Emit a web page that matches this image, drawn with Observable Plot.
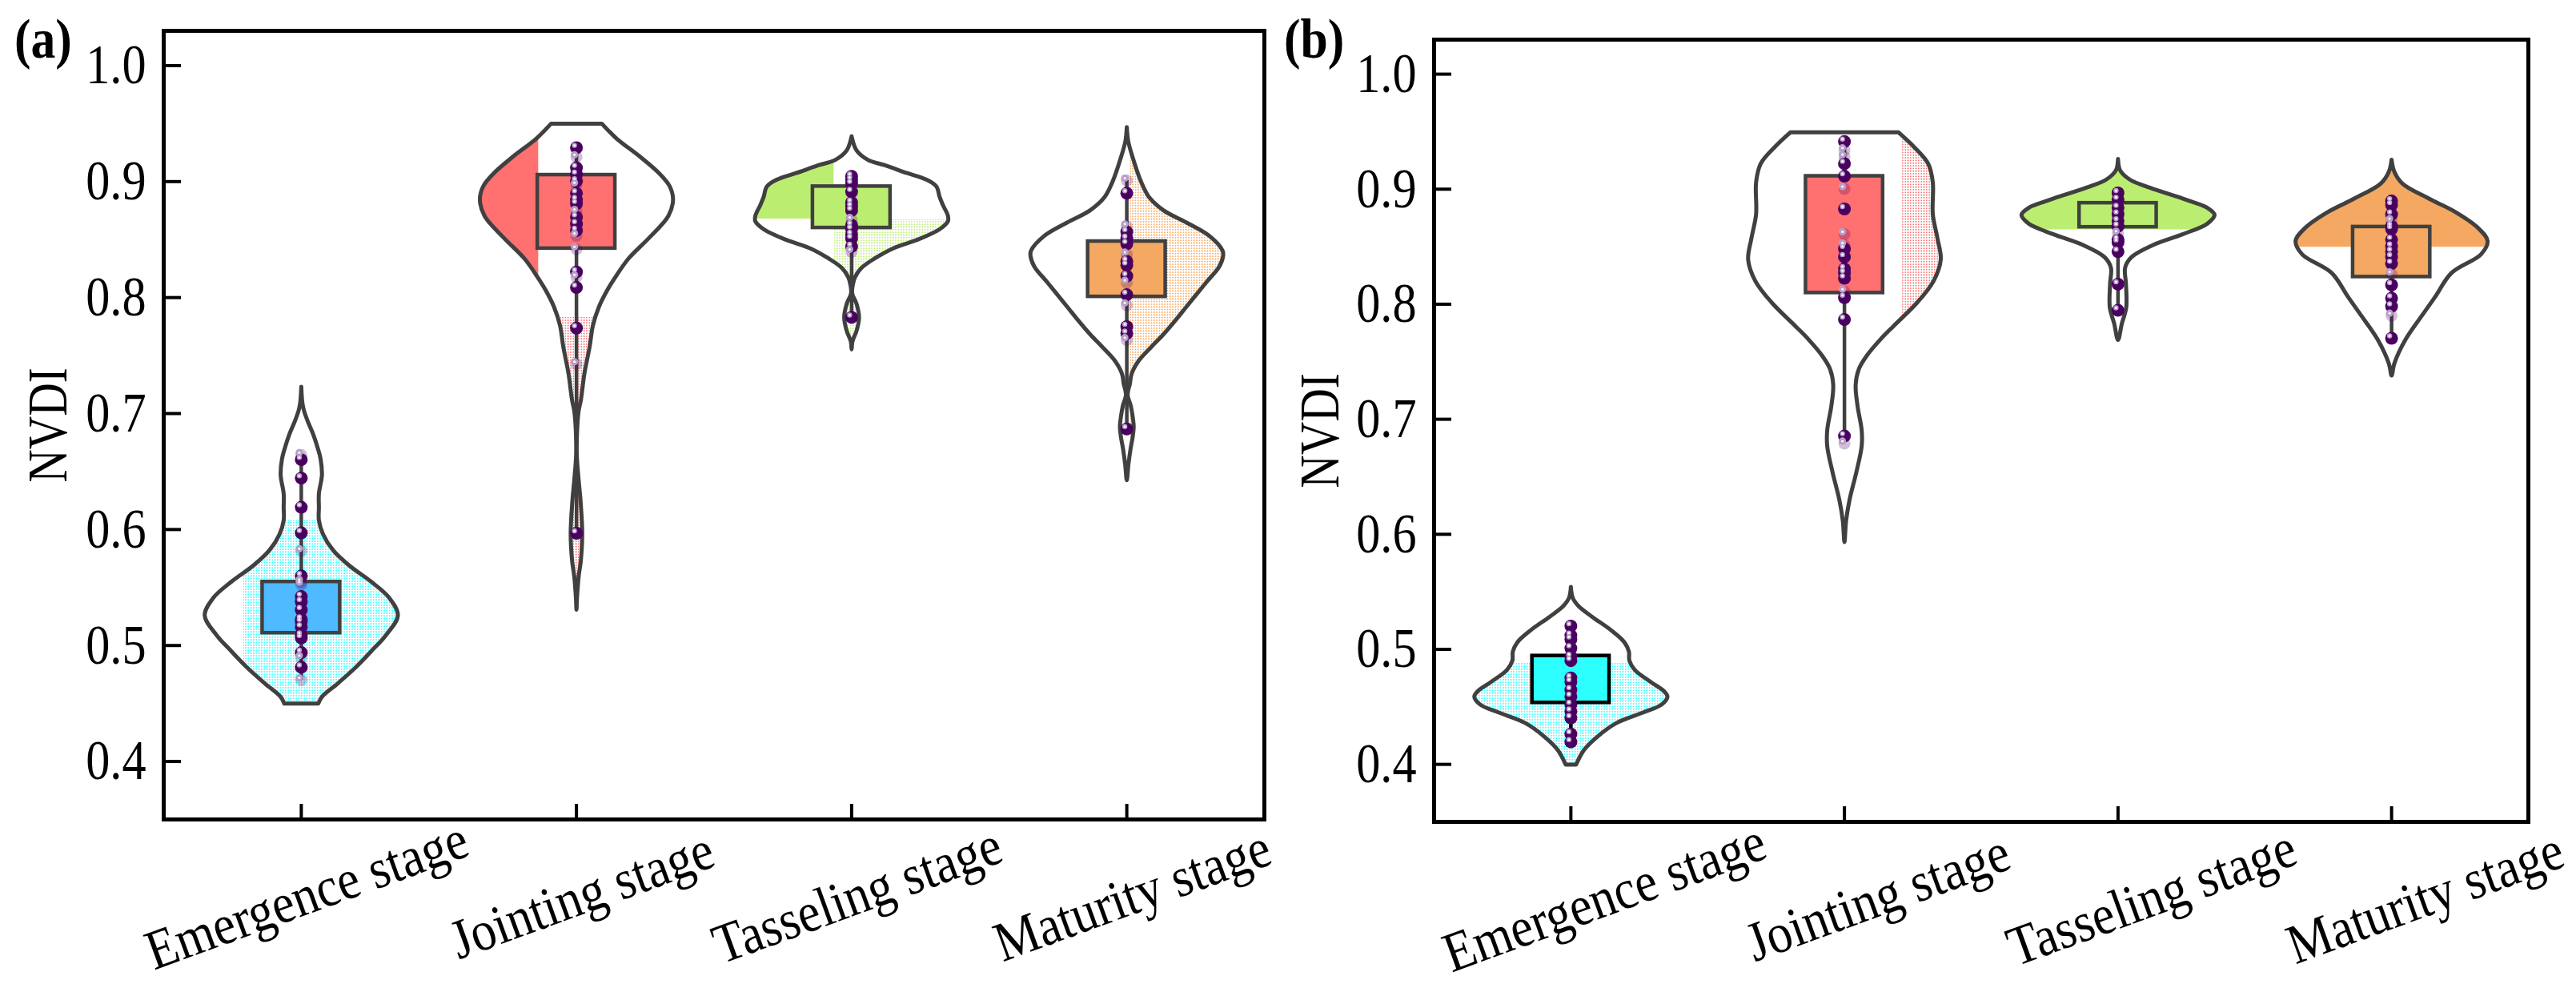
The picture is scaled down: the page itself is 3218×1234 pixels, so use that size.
<!DOCTYPE html>
<html>
<head>
<meta charset="utf-8">
<script src="https://cdn.jsdelivr.net/npm/d3@7"></script>
<script src="https://cdn.jsdelivr.net/npm/@observablehq/plot@0.6"></script>
<style>
html,body{margin:0;padding:0;background:#fff;}
#page{position:relative;width:3218px;height:1234px;overflow:hidden;background:#fff;}
.tag{position:absolute;font:bold 70px "Liberation Serif",serif;color:#000;line-height:1;transform:scaleX(.88);transform-origin:0 0;}
</style>
</head>
<body>
<div id="page">
<svg width="0" height="0" style="position:absolute">
  <defs id="pats"></defs>
</svg>
</div>
<script>
const stages = ["Emergence stage", "Jointing stage", "Tasseling stage", "Maturity stage"];
const yTicks = [0.4, 0.5, 0.6, 0.7, 0.8, 0.9, 1.0];

// violin profiles: [NVDI, half width in category units]
const a1Profile = [[.7231,0],[.7092,.004],[.7023,.010],[.693,.024],[.6816,.044],[.670,.060],[.661,.070],[.647,.075],[.631,.064],[.619,.064],[.608,.064],[.596,.079],[.582,.116],[.569,.174],[.555,.254],[.541,.320],[.526,.351],[.509,.308],[.495,.254],[.481,.197],[.467,.131],[.456,.076],[.450,.062]];
const a2Profile = [[.950,.092],[.9373,.145],[.9211,.233],[.9073,.300],[.8959,.339],[.8843,.351],[.8704,.334],[.8520,.266],[.8336,.189],[.8175,.141],[.8060,.111],[.7922,.082],[.7761,.060],[.7577,.048],[.7346,.029],[.7116,.016],[.7024,.008],[.6886,.003],[.6655,.001],[.6425,.008],[.6241,.015],[.5964,.021],[.5734,.016],[.5596,.008],[.5411,.002],[.5308,0]];
const a3Profile = [[.9391,0],[.9269,.018],[.9188,.059],[.9142,.119],[.9073,.202],[.9016,.273],[.8958,.308],[.8866,.320],[.8797,.332],[.8705,.350],[.8659,.350],[.8590,.320],[.8497,.237],[.8428,.154],[.8336,.083],[.8256,.036],[.8175,.012],[.8106,.004],[.8037,.002],[.7945,.018],[.7829,.027],[.7714,.018],[.7622,.003],[.7553,0]];
const a4Profile = [[.9470,0],[.9350,.005],[.9211,.021],[.9004,.051],[.8866,.081],[.8751,.134],[.8647,.217],[.8532,.300],[.8405,.348],[.8359,.350],[.8267,.336],[.8129,.288],[.7922,.217],[.7807,.178],[.768,.132],[.7577,.090],[.7461,.045],[.7346,.018],[.7254,.011],[.7162,.003],[.7070,.014],[.6978,.021],[.6886,.025],[.6793,.021],[.6701,.014],[.6563,.006],[.6425,0]];
const b1Profile = [[.5543,0],[.5446,.007],[.5376,.028],[.5284,.077],[.5168,.146],[.5063,.195],[.4982,.212],[.4901,.214],[.4820,.234],[.4716,.292],[.4635,.341],[.4589,.353],[.4519,.331],[.4450,.263],[.4357,.165],[.4241,.097],[.4125,.048],[.3998,.019]];
const b2Profile = [[.9495,.197],[.9361,.257],[.9222,.306],[.9060,.323],[.8782,.323],[.8573,.340],[.8388,.352],[.8203,.326],[.8017,.267],[.7809,.179],[.7693,.131],[.7554,.082],[.7438,.053],[.7299,.041],[.7114,.048],[.6905,.063],[.6766,.063],[.6535,.043],[.6303,.019],[.6118,.006],[.5932,0]];
const b3Profile = [[.9263,0],[.9163,.008],[.9082,.044],[.9013,.116],[.8909,.248],[.8839,.326],[.8777,.353],[.8700,.326],[.8608,.236],[.8515,.128],[.8411,.050],[.8318,.026],[.8179,.029],[.7970,.030],[.7832,.014],[.7688,0]];
const b4Profile = [[.9256,0],[.9152,.010],[.9048,.040],[.8920,.135],[.8804,.231],[.8665,.315],[.8550,.351],[.8434,.327],[.8272,.219],[.8063,.159],[.7901,.111],[.7693,.051],[.7484,.010],[.7380,0]];

// beads: solid samples and faded (dithered) samples
const a1Solid = [.6602,.6443,.6192,.5971,.5600,.5422,.5376,.5307,.5227,.5204,.5158,.5088,.5065,.4939,.4812];
const a1Faded = [.6643,.5814,.5549,.5526,.4893,.4701];
const a2Solid = [.9292,.9119,.9062,.9004,.8900,.8843,.8808,.8693,.8635,.8578,.8221,.8087,.7737,.5968];
const a2Faded = [.9211,.8969,.8739,.8532,.8417,.8175,.7426];
const a3Solid = [.9046,.9016,.8981,.8912,.8820,.8785,.8751,.8624,.8590,.8543,.8509,.8440,.7829];
const a3Faded = [.8670,.8394];
const a4Solid = [.8900,.8566,.8509,.8463,.8313,.8279,.8186,.8025,.7749,.7691,.6867];
const a4Faded = [.9009,.8613,.8371,.8129,.7933,.7634];
const b1Solid = [.5202,.5121,.5087,.5010,.4936,.4901,.4751,.4716,.4647,.4589,.4519,.4461,.4403,.4264,.4195];
const b1Faded = [];
const b2Solid = [.9414,.9222,.9113,.8828,.8481,.8411,.8307,.8272,.8226,.8057,.7867,.6854];
const b2Faded = [.9338,.9280,.9002,.8608,.8511,.8110,.6789];
const b3Solid = [.8967,.8909,.8839,.8781,.8723,.8677,.8561,.8538,.8457,.8174,.7947];
const b3Faded = [.8614];
const b4Solid = [.8897,.8862,.8781,.8677,.8654,.8561,.8503,.8457,.8411,.8353,.8167,.8052,.7982,.7704];
const b4Faded = [.8723,.8260,.7901];

// box [q1, q3] and whisker [low, high]
const aBoxes = [[.5107,.5549],[.8423,.9057],[.8601,.8958],[.8007,.8484]];
const bBoxes = [[.4535,.4943],[.8098,.9113],[.8670,.8879],[.8237,.8672]];
const aWhiskers = [[.4701,.6643],[.5968,.9292],[.7829,.9046],[.6867,.9009]];
const bWhiskers = [[.4195,.5202],[.6854,.9414],[.7947,.8967],[.7704,.8897]];
const aBoxColors = ["#4FBAFF","#FF7070","#BBEE70","#F4A862"];
const bBoxColors = ["#2DFFFF","#FF7070","#BBEE70","#F4A862"];
const bBoxStrokes = ["#000000","#404040","#404040","#404040"];

// fill patches seen in the figure: stage, NVDI range, x range, paint
const aPatches = [
  {s:1, lo:0, hi:.6079, xmin:.789, xmax:9, fill:"url(#dots-cyan)"},
  {s:2, lo:0, hi:1, xmin:0, xmax:1.8625, fill:"#FF7070"},
  {s:2, lo:0, hi:.7829, xmin:0, xmax:9, fill:"url(#dots-red)"},
  {s:3, lo:.8677, hi:1, xmin:0, xmax:2.936, fill:"#BBEE70"},
  {s:3, lo:0, hi:.8677, xmin:2.936, xmax:9, fill:"url(#dots-green)"},
  {s:4, lo:0, hi:1, xmin:4.012, xmax:9, fill:"url(#dots-orange)"}
];
const bPatches = [
  {s:1, lo:0, hi:.4878, xmin:0, xmax:9, fill:"url(#dots-cyan)"},
  {s:2, lo:.7902, hi:1, xmin:2.212, xmax:9, fill:"url(#dots-red)"},
  {s:3, lo:.8647, hi:1, xmin:0, xmax:9, fill:"#BBEE70"},
  {s:4, lo:.8496, hi:1, xmin:0, xmax:9, fill:"#F4A862"}
];

const patColors = {cyan:"#2DFFFF", red:"#FF7070", green:"#BBEE70", orange:"#F4A862", purple:"#4A0060"};
document.getElementById("pats").innerHTML = Object.entries(patColors).map(([k,c]) =>
  `<pattern id="dots-${k}" width="2" height="2" patternUnits="userSpaceOnUse"><rect width="1" height="1" fill="${c}" shape-rendering="crispEdges"/></pattern>`).join("");

const INK = "#404040";
const BOX_HALF = 0.141;

function outline(profile, s) {
  const first = profile[0], last = profile[profile.length - 1];
  const left = profile.map(([y, w]) => ({x: s - w, y}));
  const right = profile.filter(([, w]) => w > 0).map(([y, w]) => ({x: s + w, y})).reverse();
  // repeated end points keep the flat caps of a cut violin sharp
  const capBottom = last[1] > 0 ? [left[left.length - 1]] : [];
  const capBottomR = last[1] > 0 ? [right[0]] : [];
  const capTopR = first[1] > 0 ? [right[right.length - 1]] : [];
  const capTop = first[1] > 0 ? [left[0]] : [];
  return [...capTop, ...left, ...capBottom, ...capBottomR, ...right, ...capTopR, left[0], ...capTop];
}
function halfWidthAt(profile, y) {
  for (let i = 0; i < profile.length - 1; i++) {
    const [y0, w0] = profile[i], [y1, w1] = profile[i + 1];
    if (y <= y0 && y >= y1) return w0 + (w1 - w0) * (y0 - y) / (y0 - y1);
  }
  return null;
}
function patchArea(profile, p) {
  const top = Math.min(p.hi, profile[0][0]);
  const bot = Math.max(p.lo, profile[profile.length - 1][0]);
  const ys = d3.range(bot, top, 0.0008).concat(top);
  return ys.map(y => {
    const w = halfWidthAt(profile, y) ?? 0;
    return {y, x1: Math.max(p.s - w, p.xmin), x2: Math.min(p.s + w, p.xmax)};
  }).filter(d => d.x1 < d.x2);
}

function panel({profiles, solids, fadeds, boxes, whiskers, colors, strokes, patches, opts}) {
  const marks = [];
  for (const p of patches) {
    marks.push(Plot.areaX(patchArea(profiles[p.s - 1], p), {y: "y", x1: "x1", x2: "x2", fill: p.fill}));
  }
  profiles.forEach((prof, i) => {
    marks.push(Plot.line(outline(prof, i + 1), {x: "x", y: "y", stroke: INK, strokeWidth: 5, curve: "catmull-rom"}));
  });
  stages.forEach((_, i) => {
    const col = strokes ? strokes[i] : INK;
    marks.push(Plot.ruleX([i + 1], {y1: whiskers[i][0], y2: whiskers[i][1], stroke: col, strokeWidth: 4.5}));
    marks.push(Plot.rect([i], {
      x1: i + 1 - BOX_HALF, x2: i + 1 + BOX_HALF,
      y1: boxes[i][0], y2: boxes[i][1],
      fill: colors[i], stroke: col, strokeWidth: 4.5
    }));
  });
  stages.forEach((_, i) => {
    const st = i + 1;
    marks.push(Plot.dot(fadeds[i], {x: () => st, y: d => d, r: 7.5, fill: "url(#dots-purple)", stroke: "none"}));
    marks.push(Plot.dot(solids[i], {x: () => st, y: d => d, r: 8, fill: "#4A0060", stroke: "none"}));
    marks.push(Plot.dot(solids[i], {x: () => st, y: d => d, r: 3.2, dx: -2.5, dy: -3, fill: "#B79FC8", stroke: "none"}));
    marks.push(Plot.dot(fadeds[i], {x: () => st, y: d => d, r: 4.6, dx: -2.5, dy: -3, fill: "#B79FC8", stroke: "none"}));
    marks.push(Plot.dot([...solids[i], ...fadeds[i]], {x: () => st, y: d => d, r: 1.5, dx: -2.5, dy: -3, fill: "#FFFFFF", stroke: "none"}));
  });
  marks.push(Plot.frame({stroke: "#000", strokeWidth: 5}));
  marks.push(Plot.axisY(yTicks, {
    anchor: "left", tickFormat: d3.format(".1f"), tickSize: -22, tickPadding: 44,
    strokeWidth: 4, stroke: "#000", fontSize: 70, fill: "#000",
    label: "NVDI", labelAnchor: "center", labelArrow: "none", labelOffset: opts.labelOffset
  }));
  marks.push(Plot.axisX([1, 2, 3, 4], {
    anchor: "bottom", tickFormat: () => "", tickSize: -19,
    strokeWidth: 4, stroke: "#000", label: null
  }));
  marks.push(Plot.axisX([1, 2, 3, 4], {
    anchor: "bottom", tickFormat: d => stages[d - 1], tickSize: 0, tickPadding: opts.xPad,
    tickRotate: -20, textAnchor: "middle", lineAnchor: "middle", dx: opts.xShift,
    fontSize: 70, fill: "#000", label: null
  }));
  return Plot.plot({
    width: opts.width, height: 1234,
    marginLeft: opts.ml, marginRight: opts.mr, marginTop: opts.mt, marginBottom: opts.mb,
    x: {domain: [0.5, 4.5]},
    y: {domain: [0.35, 1.03]},
    style: {position: "absolute", left: opts.left + "px", top: "0px", fontFamily: '"Liberation Serif", serif', background: "transparent", overflow: "visible"},
    marks
  });
}

// the reference's serif is narrower than Liberation Serif: squeeze the real text glyphs
function squeeze(svg) {
  svg.querySelectorAll("text").forEach(t => {
    const content = t.textContent.trim();
    if (!content) return;
    let k = 0.89;
    if (/^\d\.\d$/.test(content)) k = 0.86;
    if (content === "NVDI") k = 0.82;
    const len = t.getComputedTextLength();
    t.setAttribute("textLength", (len * k).toFixed(1));
    t.setAttribute("lengthAdjust", "spacingAndGlyphs");
  });
}

const page = document.getElementById("page");
const plotA = panel({
  profiles: [a1Profile, a2Profile, a3Profile, a4Profile],
  solids: [a1Solid, a2Solid, a3Solid, a4Solid],
  fadeds: [a1Faded, a2Faded, a3Faded, a4Faded],
  boxes: aBoxes, whiskers: aWhiskers, colors: aBoxColors, patches: aPatches,
  opts: {left: 0, width: 1600, ml: 204, mr: 21, mt: 38, mb: 211, labelOffset: 171, xPad: 95, xShift: 7}
});
const plotB = panel({
  profiles: [b1Profile, b2Profile, b3Profile, b4Profile],
  solids: [b1Solid, b2Solid, b3Solid, b4Solid],
  fadeds: [b1Faded, b2Faded, b3Faded, b4Faded],
  boxes: bBoxes, whiskers: bWhiskers, colors: bBoxColors, strokes: bBoxStrokes, patches: bPatches,
  opts: {left: 1600, width: 1618, ml: 191, mr: 60, mt: 49, mb: 208, labelOffset: 169, xPad: 95, xShift: 42}
});
page.append(plotA, plotB);
squeeze(plotA); squeeze(plotB);
for (const [t, l, tp] of [["(a)", 18, 14], ["(b)", 1604, 14]]) {
  const d = document.createElement("div");
  d.className = "tag"; d.textContent = t; d.style.left = l + "px"; d.style.top = tp + "px";
  page.append(d);
}
</script>
</body>
</html>
